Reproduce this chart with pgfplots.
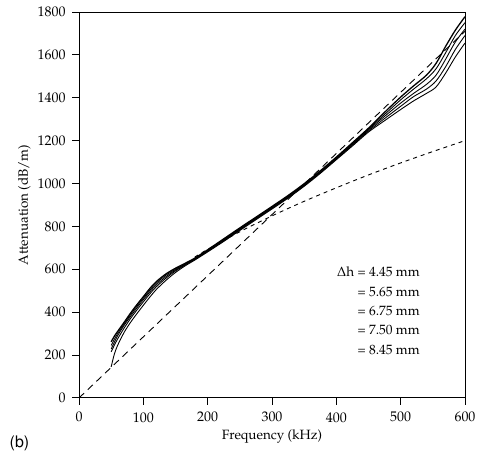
\documentclass[border=0pt]{standalone}
\usepackage[T1]{fontenc}
\usepackage{mathpazo}
\usepackage{pgfplots}
\pgfplotsset{compat=1.18}

\pgfplotstableread{
f     a1    a2    a3    a4    a5
50    262   245   228   215   145
55    288   274   260   246   205
60    310   300   290   275   245
70    352   345   338   325   305
80    395   388   380   370   352
90    435   428   420   410   393
100   472   465   458   448   432
110   510   502   494   485   470
120   542   535   527   518   505
135   578   572   565   558   548
150   605   600   596   592   585
165   628   625   622   620   616
180   652   650   648   646   643
200   691   688   686   684   681
225   742   739   736   733   730
250   793   790   787   784   781
275   843   840   837   834   831
300   893   890   887   884   881
325   944   941   938   935   932
350   999   996   993   990   987
375   1059  1056  1053  1050  1047
400   1123  1120  1117  1114  1111
425   1190  1186  1183  1179  1175
450   1258  1254  1250  1245  1240
475   1332  1322  1313  1303  1293
500   1403  1390  1375  1360  1345
520   1455  1440  1420  1405  1385
540   1505  1488  1462  1440  1420
555   1560  1535  1505  1478  1450
570   1640  1610  1580  1545  1515
585   1715  1690  1660  1625  1590
600   1778  1750  1720  1690  1655
}\meas

\pgfplotstableread{
f     a
180   657
200   693
250   775
300   849
350   917
400   980
450   1040
500   1096
550   1149
600   1200
}\lowf

\begin{document}
\begin{tikzpicture}
\begin{axis}[
    scale only axis,
    width=386bp,
    height=386bp,
    xmin=0, xmax=600,
    ymin=0, ymax=1800,
    xtick={0,100,...,600},
    ytick={0,200,...,1800},
    /pgf/number format/1000 sep={},
    tick align=outside,
    xtick pos=left,
    ytick pos=left,
    major tick length=7bp,
    axis line style={line width=0.9pt},
    tick style={line width=0.9pt, black},
    ticklabel style={font=\fontsize{14}{16}\selectfont},
    xticklabel style={yshift=-4bp},
    yticklabel style={xshift=-3bp},
    xlabel={Frequency (kHz)},
    ylabel={Attenuation (dB/m)},
    label style={font=\fontsize{13.5}{16}\selectfont},
    xlabel style={yshift=-1bp},
    ylabel style={yshift=0bp},
    clip=false,
]
\addplot[black, line width=1.3pt, smooth] table[x=f, y=a1] {\meas};
\addplot[black, line width=0.9pt, smooth] table[x=f, y=a2] {\meas};
\addplot[black, line width=0.9pt, smooth] table[x=f, y=a3] {\meas};
\addplot[black, line width=0.9pt, smooth] table[x=f, y=a4] {\meas};
\addplot[black, line width=0.9pt, smooth] table[x=f, y=a5] {\meas};
\addplot[black, line width=0.9pt, dash pattern=on 7bp off 5bp] coordinates {(0,0) (600,1710)};
\addplot[black, line width=0.9pt, dash pattern=on 4bp off 4bp, smooth] table[x=f, y=a] {\lowf};

\node[anchor=north east, align=right, font=\fontsize{13.5}{19.5}\selectfont, inner sep=0pt]
    at (axis cs:530,612)
    {$\Delta$h = 4.45 mm\\ = 5.65 mm\\ = 6.75 mm\\ = 7.50 mm\\ = 8.45 mm};
\node[anchor=base west, inner sep=0pt, font=\fontfamily{phv}\fontsize{16}{18}\selectfont]
    at (rel axis cs:-0.18,-0.128) {(b)};

\coordinate (bl) at (rel axis cs:-0.2047,-0.168);
\coordinate (tr) at (rel axis cs:1.0337,1.031);
\end{axis}
\pgfresetboundingbox
\path[use as bounding box] (bl) rectangle (tr);
\end{tikzpicture}
\end{document}
